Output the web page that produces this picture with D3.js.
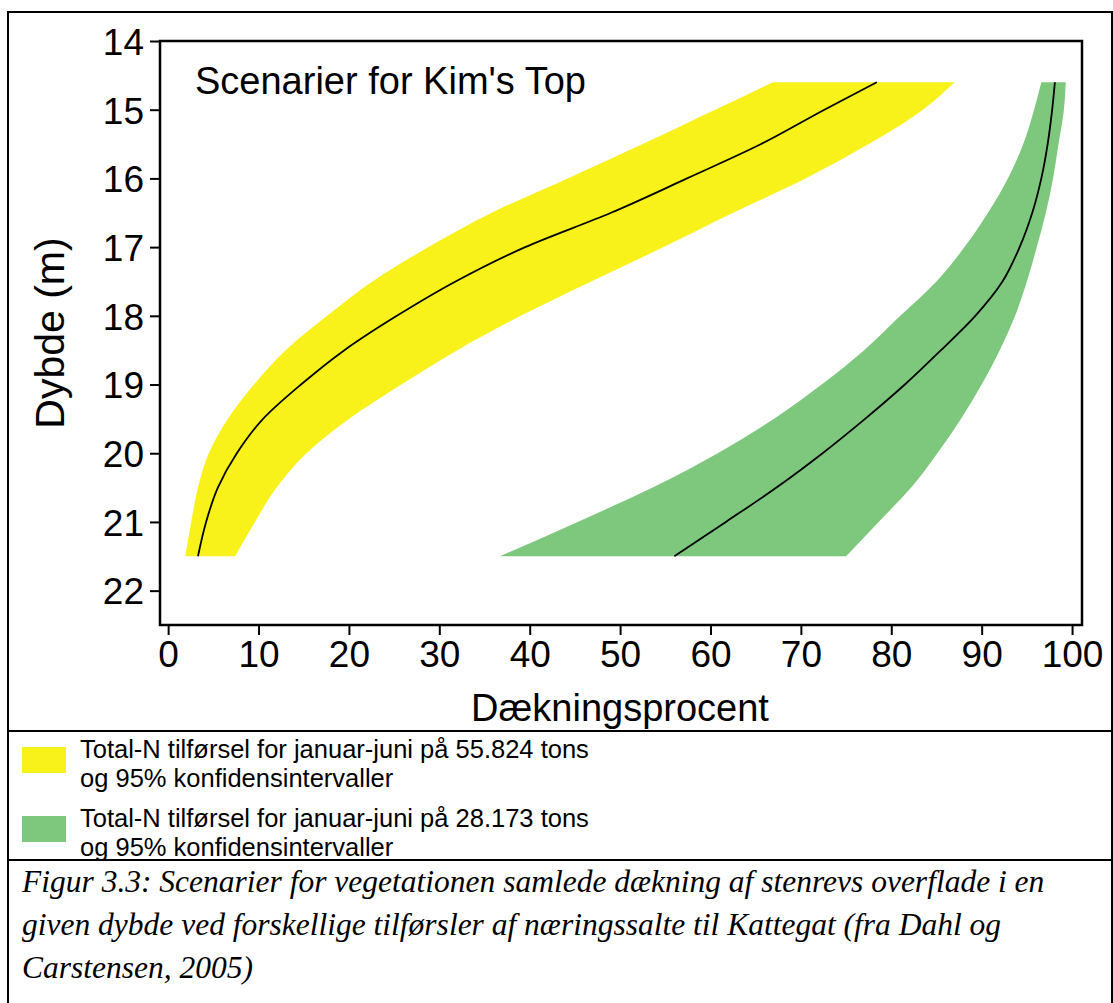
<!DOCTYPE html>
<html>
<head>
<meta charset="utf-8">
<script src="https://cdn.jsdelivr.net/npm/d3@7"></script>
<style>
  body { margin: 0; background: #fff; }
  svg { display: block; }
  .sans { font-family: "Liberation Sans", Arial, Helvetica, sans-serif; }
  .serif { font-family: "Liberation Serif", "Times New Roman", serif; font-style: italic; }
</style>
</head>
<body>
<svg id="chart" width="1113" height="1003"></svg>
<script>
// depth (m) at which the band values were read
const depths = [14.6, 15, 15.5, 16, 16.5, 17, 17.5, 18, 18.5, 19, 19.5, 20, 20.5, 21, 21.5];

// 55.824 tons scenario (yellow)
const yellowLow  = [66.9, 60.5, 52.5, 44.2, 35.8, 28.8, 22.6, 17.6, 13.0, 9.5, 6.6, 4.5, 3.3, 2.55, 1.9];
const yellowMid  = [78.4, 72.6, 65.6, 57.4, 49.0, 39.5, 31.8, 25.3, 19.5, 14.7, 10.5, 7.6, 5.5, 4.2, 3.3];
const yellowHigh = [87.0, 83.5, 77.5, 70.5, 62.5, 54.8, 46.8, 39.0, 32.0, 25.8, 20.0, 15.3, 12.0, 9.6, 7.4];

// 28.173 tons scenario (green)
const greenLow  = [96.6, 95.8, 94.6, 92.9, 90.7, 88.1, 85.0, 81.0, 77.0, 72.3, 67.0, 60.8, 53.6, 45.3, 36.7];
const greenMid  = [98.1, 97.8, 97.3, 96.6, 95.6, 94.2, 92.3, 89.3, 85.5, 81.5, 77.1, 72.4, 67.3, 61.7, 56.0];
const greenHigh = [99.3, 99.1, 98.5, 97.9, 97.1, 96.1, 95.0, 93.7, 92.0, 90.0, 87.7, 85.1, 82.2, 78.6, 75.0];

const yTicks = [14, 15, 16, 17, 18, 19, 20, 21, 22];
const xTicks = [0, 10, 20, 30, 40, 50, 60, 70, 80, 90, 100];

const legendItems = [
  {color: "#f8f21a", lines: ["Total-N tilførsel for januar-juni på 55.824 tons", "og 95% konfidensintervaller"]},
  {color: "#7ec87e", lines: ["Total-N tilførsel for januar-juni på 28.173 tons", "og 95% konfidensintervaller"]}
];
const captionLines = [
  "Figur 3.3: Scenarier for vegetationen samlede dækning af stenrevs overflade i en",
  "given dybde ved forskellige tilførsler af næringssalte til Kattegat (fra Dahl og",
  "Carstensen, 2005)"
];

const svg = d3.select("#chart");

// outer frame and separators
svg.append("rect").attr("x", 8).attr("y", 12).attr("width", 1104).attr("height", 1000)
  .attr("fill", "none").attr("stroke", "#000").attr("stroke-width", 2);
svg.append("line").attr("x1", 8).attr("x2", 1113).attr("y1", 731).attr("y2", 731)
  .attr("stroke", "#000").attr("stroke-width", 2);
svg.append("line").attr("x1", 8).attr("x2", 1113).attr("y1", 860).attr("y2", 860)
  .attr("stroke", "#000").attr("stroke-width", 2);

const x = d3.scaleLinear().domain([-0.9, 101.1]).range([160, 1082]);
const y = d3.scaleLinear().domain([14, 22.5]).range([41, 625]);

function band(low, high) {
  return depths.map((d, i) => ({d: d, lo: low[i], hi: high[i]}));
}
function mid(vals) {
  return depths.map((d, i) => ({d: d, v: vals[i]}));
}

const area = d3.area()
  .y(p => y(p.d))
  .x0(p => x(p.lo))
  .x1(p => x(p.hi))
  .curve(d3.curveMonotoneY);
const line = d3.line()
  .y(p => y(p.d))
  .x(p => x(p.v))
  .curve(d3.curveMonotoneY);

const plot = svg.append("g");
plot.append("path").datum(band(yellowLow, yellowHigh)).attr("d", area).attr("fill", legendItems[0].color);
plot.append("path").datum(band(greenLow, greenHigh)).attr("d", area).attr("fill", legendItems[1].color);
plot.append("path").datum(mid(yellowMid)).attr("d", line).attr("fill", "none").attr("stroke", "#000").attr("stroke-width", 1.8);
plot.append("path").datum(mid(greenMid)).attr("d", line).attr("fill", "none").attr("stroke", "#000").attr("stroke-width", 1.8);

// plot box
svg.append("rect").attr("x", 160).attr("y", 41).attr("width", 922).attr("height", 584)
  .attr("fill", "none").attr("stroke", "#000").attr("stroke-width", 2.5);

const yAxis = svg.append("g").attr("class", "sans")
  .attr("transform", "translate(160,0)")
  .call(d3.axisLeft(y).tickValues(yTicks).tickSize(10).tickSizeOuter(0).tickPadding(6));
const xAxis = svg.append("g").attr("class", "sans")
  .attr("transform", "translate(0,625)")
  .call(d3.axisBottom(x).tickValues(xTicks).tickSize(10).tickSizeOuter(0).tickPadding(6));
[yAxis, xAxis].forEach(a => {
  a.select(".domain").remove();
  a.selectAll(".tick line").attr("stroke", "#000").attr("stroke-width", 2);
  a.selectAll(".tick text").attr("fill", "#000").style("font-size", "37px")
    .style("font-family", "'Liberation Sans', Arial, sans-serif");
});
yAxis.selectAll(".tick text").attr("dy", "0.36em");

svg.append("text").attr("class", "sans").attr("x", 195).attr("y", 94)
  .style("font-size", "38px").text("Scenarier for Kim's Top");

svg.append("text").attr("class", "sans")
  .attr("transform", "translate(64,333) rotate(-90)")
  .attr("text-anchor", "middle").style("font-size", "41px").text("Dybde (m)");
svg.append("text").attr("class", "sans")
  .attr("x", 620).attr("y", 721)
  .attr("text-anchor", "middle").style("font-size", "38px").text("Dækningsprocent");

// legend
const leg = svg.append("g").attr("class", "sans");
legendItems.forEach((item, i) => {
  const top = 747 + i * 69;
  leg.append("rect").attr("x", 22).attr("y", top).attr("width", 44).attr("height", 26)
    .attr("fill", item.color);
  item.lines.forEach((t, j) => {
    leg.append("text").attr("x", 80).attr("y", top + 11 + j * 29)
      .style("font-size", "25.5px").text(t);
  });
});

// caption
const cap = svg.append("g").attr("class", "serif");
captionLines.forEach((t, i) => {
  cap.append("text").attr("x", 22).attr("y", 892 + i * 43)
    .style("font-size", "31.5px").text(t);
});
</script>
</body>
</html>
